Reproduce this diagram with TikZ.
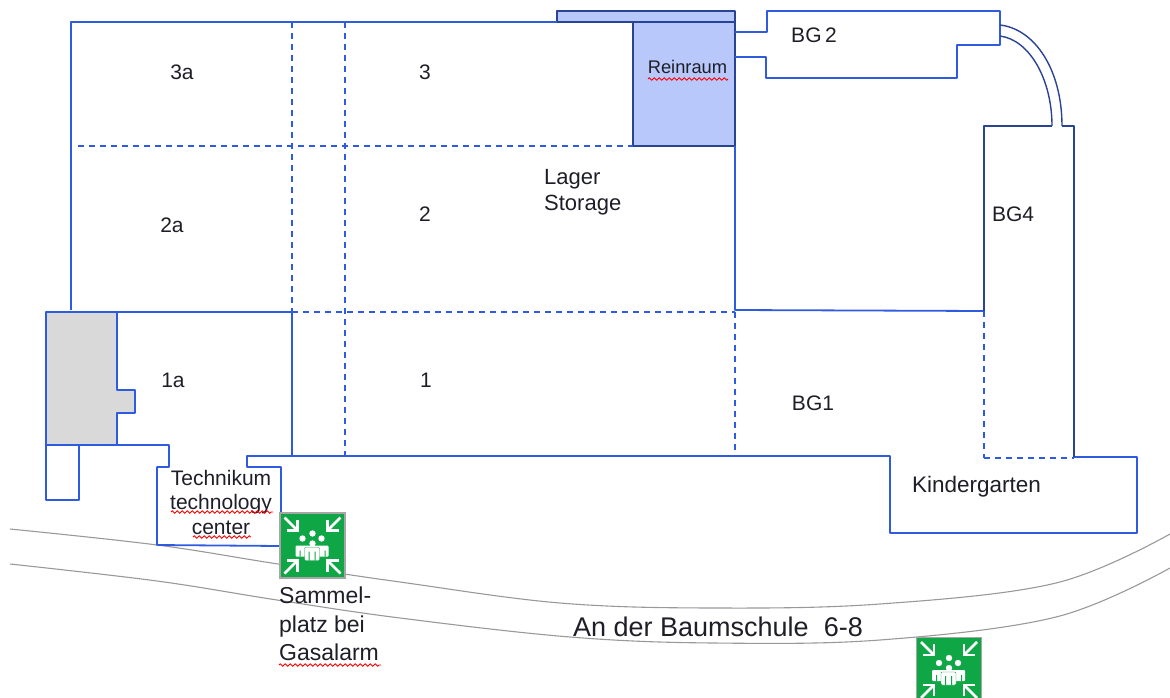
\documentclass[tikz,border=0pt]{standalone}
\usepackage{fontspec}
\setmainfont{Liberation Sans}
\usetikzlibrary{decorations.pathmorphing}
\definecolor{wallBlue}{HTML}{2F5BE0}
\definecolor{darkBlue}{HTML}{2A4494}
\definecolor{roomBlue}{HTML}{B8C8FB}
\definecolor{signGreen}{HTML}{0FA645}
\definecolor{textDark}{HTML}{1E1E28}
\tikzset{
	wall/.style={draw=wallBlue, line width=1.8pt, line join=round},
	inner wall/.style={wall, line width=1.6pt, dash pattern=on 6pt off 5pt},
	dark wall/.style={draw=darkBlue, line width=1.8pt, line join=round},
	road/.style={draw=gray!80, line width=1.1pt},
	room/.style={inner sep=0pt, text=textDark, font=\fontsize{21}{25}\selectfont},
	small room/.style={room, align=center, font=\fontsize{21}{24.5}\selectfont},
	squiggle/.style={draw=red, line width=.8pt, decorate, decoration={zigzag, segment length=5pt, amplitude=1.2pt}},
	pics/assembly/.style={code={
		\node[draw=gray!70, line width=1.5pt, fill=signGreen, minimum size=65pt, inner sep=0pt] (-box) at (0,0) {};
		\foreach \sx /\sy in {-1/-1, 1/-1, -1/1, 1/1}
		{\draw[white, line width=2.6pt] (\sx*28,\sy*28) -- (\sx*15,\sy*15);
		 \draw[white, line width=2.6pt] (\sx*15,\sy*26) -- (\sx*15,\sy*15) -- (\sx*26,\sy*15);}
		\foreach \x /\y in {-10/-7, 9/-7, 0/-12, 0/-2}
		{\fill[white] (\x,\y) circle (3.2);}
		\fill[white, rounded corners=1pt] (-17,0) rectangle (16,11);
		\fill[signGreen] (-13,5) rectangle (-12,11) (12,5) rectangle (13,11);
		\fill[white, draw=signGreen, rounded corners=1pt] (-8,2) rectangle (7,15);
		\fill[signGreen] (-4,6) rectangle (-3,15) (2,6) rectangle (3,15);
	}}
}
\begin{document}
\begin{tikzpicture}[x=1pt, y=-1pt]
	\useasboundingbox (0,0) rectangle (1170,698);
	% road
	\draw[road] plot[smooth, tension=.6] coordinates {(10,529) (157,545) (278,564) (400,582) (560,603) (713,608) (880,604) (1056,583) (1170,534)};
	\draw[road] plot[smooth, tension=.6] coordinates {(10,564) (157,581) (277,600) (400,618) (570,637) (713,643) (880,640) (1056,617) (1170,568)};
	% rooms with fill
	\draw[dark wall, fill=roomBlue] (557,22) -- (557,11) -- (735,11) -- (735,22) -- cycle;
	\draw[dark wall, fill=roomBlue] (633,22) rectangle (735,146);
	\draw[wall, fill=gray!30] (46,312) -- (117,312) -- (117,390) -- (135,390) -- (135,413) -- (117,413) -- (117,445) -- (46,445) -- cycle;
	% outer walls
	\draw[wall] (46,445) -- (46,500) -- (79,500) -- (79,445);
	\draw[wall] (71,310) -- (71,22) -- (557,22);
	\draw[wall] (117,312) -- (292,312) -- (292,456);
	\draw[wall] (117,445) -- (169,445) -- (169,467) -- (157,467) -- (157,545) -- (280,546);
	\draw[wall] (281,513) -- (281,467) -- (247,467) -- (247,456) -- (890,456) -- (890,533) -- (1137,533) -- (1137,457) -- (1074,457);
	\draw[wall] (735,146) -- (735,310) -- (984,311);
	\draw[wall] (735,32) -- (767,32) -- (767,11) -- (1000,11) -- (1000,45) -- (957,45) -- (957,78) -- (766,78) -- (766,57) -- (735,57);
	% BG4 and bridge
	\draw[dark wall] (984,311) -- (984,126) -- (1052,126);
	\draw[dark wall] (1062,126) -- (1074,126) -- (1074,457);
	\draw[dark wall, line width=1.4pt] (1000,25) .. controls (1035,29) and (1062,70) .. (1062,126);
	\draw[dark wall, line width=1.4pt] (1000,36) .. controls (1030,40) and (1052,80) .. (1052,126);
	% dashed walls
	\foreach \xa /\ya /\xb /\yb in {
		292/22/292/312,
		345/22/345/456,
		78/146/633/146,
		292/312/735/312,
		735/312/735/456,
		984/311/984/458,
		984/458/1074/458
	}{
		\draw[inner wall] (\xa,\ya) -- (\xb,\yb);
	}
	% room labels
	\foreach \x /\y /\alph /\name in {
		182/72/r3a/3a,
		425/72/r3/3,
		172/225/r2a/2a,
		425/214/r2/2,
		173/380/r1a/1a,
		426/380/r1/1,
		813/403/bgone/BG1,
		1013/214/bgfour/BG4,
		814/35/bgtwo/BG\,2
	}{
		\node[room] (\alph) at (\x,\y) {\name};
	}
	\node[room, font=\fontsize{22.5}{25}\selectfont] (kinder) at (976.5,487) {Kindergarten};
	\node[room, align=left, anchor=north west, font=\fontsize{22}{26}\selectfont] (lager) at (544,169) {Lager\\Storage};
	\node[room, font=\fontsize{18.3}{20}\selectfont] (reinraum) at (687.5,67) {Reinraum};
	\node[small room] (technikum) at (221,502) {Technikum\\technology\\center};
	\node[room, align=left, anchor=north west, font=\fontsize{23}{28.5}\selectfont] (sammel) at (279,587) {Sammel-\\platz bei\\Gasalarm};
	\node[room, font=\fontsize{27}{30}\selectfont] (street) at (718,627) {An der Baumschule\ \ 6-8};
	% spell check marks
	\coordinate (s1a) at (648,79);
	\coordinate (s1b) at (728,79);
	\coordinate (s2a) at (171,512);
	\coordinate (s2b) at (273,512);
	\coordinate (s3a) at (193,537);
	\coordinate (s3b) at (251,537);
	\coordinate (s4a) at (279,665);
	\coordinate (s4b) at (381,665);
	\foreach \k in {1, 2, 3, 4}
	{\draw[squiggle] (s\k a) -- (s\k b);}
	% signs
	\pic (signA) at (312.5,545.5) {assembly};
	\pic (signB) at (949,670) {assembly};
\end{tikzpicture}
\end{document}
